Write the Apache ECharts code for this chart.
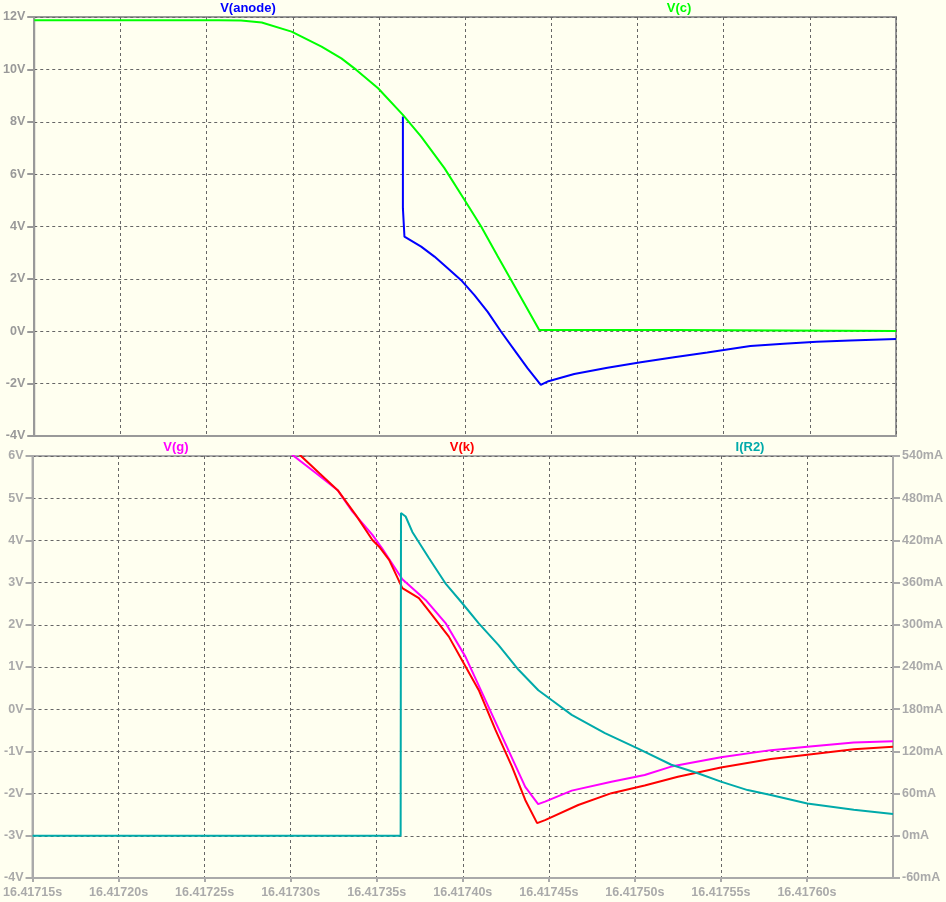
<!DOCTYPE html>
<html>
<head>
<meta charset="utf-8">
<script src="https://cdn.jsdelivr.net/npm/echarts@6/dist/echarts.min.js"></script>
<style>
  html, body { margin: 0; padding: 0; background: #fffff0; }
  #chart { width: 946px; height: 902px; }
</style>
</head>
<body>
<div id="chart"></div>
<script>
// time axis: microseconds after 16.41715 s
const T0 = 16.41715;

// top pane: V(c) and V(anode), volts
const tC = [0, 107, 120, 132, 149.3, 155.1, 166.7, 178.2, 186.9, 199.5, 213.9, 224.5, 238, 249.6, 259.3, 268.9, 276.6, 293, 372, 373, 500];
const vC = [11.88, 11.88, 11.87, 11.79, 11.44, 11.25, 10.87, 10.42, 9.98, 9.28, 8.26, 7.43, 6.23, 5.02, 4.0, 2.86, 1.97, 0.05, 0.05, 0.01, 0.01];

const tAnode = [213.9, 213.9, 214.4, 214.8, 224.5, 232.2, 239.9, 247.7, 255.4, 263.1, 270.8, 278.5, 286.3, 293.9, 297.8, 313.3, 332.6, 351.9, 371.2, 390.5, 415.5, 434.8, 454.1, 473.4, 500];
const vAnode = [8.2, 4.7, 4.63, 3.61, 3.23, 2.85, 2.41, 1.95, 1.38, 0.74, -0.01, -0.71, -1.42, -2.05, -1.92, -1.63, -1.39, -1.18, -0.99, -0.81, -0.56, -0.48, -0.4, -0.35, -0.3];

// bottom pane: V(g), V(k) in volts, I(R2) in mA
const tG = [143.5, 151.2, 164.8, 177.3, 185.9, 197.5, 203.3, 214.9, 228.4, 240, 251.6, 263.1, 274.7, 286.3, 293.8, 297.8, 313.3, 336.4, 355.7, 371.1, 400, 429, 450.2, 477.2, 500];
const vG = [6.27, 6.02, 5.59, 5.19, 4.68, 4.13, 3.8, 3.08, 2.59, 2.04, 1.24, 0.22, -0.81, -1.84, -2.25, -2.19, -1.93, -1.72, -1.56, -1.36, -1.14, -0.97, -0.89, -0.79, -0.76];

const tK = [149.3, 155.5, 166.7, 177.3, 187.9, 197.5, 201.4, 207.2, 214.9, 224.5, 230.3, 241.9, 251.6, 259.3, 269, 278.6, 286.3, 293.2, 297.8, 317.1, 336.4, 355.7, 375, 400, 429, 450.2, 477.2, 500];
const vK = [6.27, 6.02, 5.59, 5.19, 4.6, 4.01, 3.85, 3.54, 2.87, 2.63, 2.33, 1.72, 1.01, 0.45, -0.49, -1.36, -2.15, -2.7, -2.63, -2.27, -1.99, -1.81, -1.6, -1.38, -1.18, -1.08, -0.95, -0.89];

const tR2 = [0, 213.9, 214.1, 216.8, 220.7, 230.3, 239.9, 249.6, 259.3, 270.8, 282.4, 293.9, 301.6, 313.3, 332.6, 351.9, 371.2, 386.6, 400, 415.5, 429, 450.2, 477.2, 500];
const iR2 = [0, 0, 459, 454, 432, 395, 359, 331, 302, 271, 236, 207, 193, 172, 146, 124, 101, 89, 77, 65, 58, 46, 37, 31];

const pairs = (ts, vs) => ts.map((t, i) => [t, vs[i]]);

const FONT = '"Liberation Sans", Arial, sans-serif';
const gridLine = { lineStyle: { type: [3, 3], color: '#666', width: 1 } };

function line(name, color, xi, yi, data) {
  return {
    name: name, type: 'line', xAxisIndex: xi, yAxisIndex: yi,
    data: data, showSymbol: false, symbol: 'none', clip: true,
    lineStyle: { color: color, width: 2 }, animation: false
  };
}

function label(text, x, y, color) {
  return {
    type: 'text', x: x, y: y,
    style: { text: text, fill: color, font: 'bold 13px ' + FONT, align: 'center', verticalAlign: 'middle' }
  };
}

const chart = echarts.init(document.getElementById('chart'));
chart.setOption({
  backgroundColor: '#fffff0',
  animation: false,
  grid: [
    { left: 32, top: 17, width: 864, height: 419, show: true, borderColor: '#999', borderWidth: 2 },
    { left: 32, top: 456, width: 864, height: 422, show: true, borderColor: '#aaa', borderWidth: 2 }
  ],
  xAxis: [
    {
      gridIndex: 0, type: 'value', min: 0, max: 500, interval: 50,
      axisLine: { onZero: false, lineStyle: { color: '#999', width: 2 } },
      axisTick: { show: false }, axisLabel: { show: false },
      splitLine: gridLine
    },
    {
      gridIndex: 1, type: 'value', min: 0, max: 500, interval: 50,
      axisLine: { onZero: false, lineStyle: { color: '#aaa', width: 2 } },
      axisTick: { length: 4, lineStyle: { color: '#aaa', width: 2 } },
      axisLabel: {
        color: '#aaa', fontSize: 12.5, fontWeight: 'bold', fontFamily: FONT, margin: 8,
        showMaxLabel: false,
        formatter: v => (T0 + v / 1e6).toFixed(5) + 's'
      },
      splitLine: gridLine
    }
  ],
  yAxis: [
    {
      gridIndex: 0, type: 'value', min: -4, max: 12, interval: 2,
      axisLine: { show: true, onZero: false, lineStyle: { color: '#999', width: 2 } },
      axisTick: { show: true, length: 7, lineStyle: { color: '#999', width: 2 } },
      axisLabel: { color: '#999', fontSize: 12.5, fontWeight: 'bold', fontFamily: FONT, margin: 9, formatter: '{value}V' },
      splitLine: gridLine
    },
    {
      gridIndex: 1, type: 'value', min: -4, max: 6, interval: 1,
      axisLine: { show: true, onZero: false, lineStyle: { color: '#aaa', width: 2 } },
      axisTick: { show: true, length: 7, lineStyle: { color: '#aaa', width: 2 } },
      axisLabel: { color: '#aaa', fontSize: 12.5, fontWeight: 'bold', fontFamily: FONT, margin: 9, formatter: '{value}V' },
      splitLine: gridLine
    },
    {
      gridIndex: 1, type: 'value', position: 'right', min: -60, max: 540, interval: 60,
      axisLine: { show: true, onZero: false, lineStyle: { color: '#aaa', width: 2 } },
      axisTick: { show: true, length: 7, lineStyle: { color: '#aaa', width: 2 } },
      axisLabel: { color: '#aaa', fontSize: 12.5, fontWeight: 'bold', fontFamily: FONT, margin: 9, formatter: '{value}mA' },
      splitLine: { show: false }
    }
  ],
  graphic: [
    label('V(anode)', 248, 8, '#0000ff'),
    label('V(c)', 679, 8, '#00ff00'),
    label('V(g)', 176, 447, '#ff00ff'),
    label('V(k)', 462, 447, '#ff0000'),
    label('I(R2)', 750, 447, '#00aaaa')
  ],
  series: [
    line('V(anode)', '#0000ff', 0, 0, pairs(tAnode, vAnode)),
    line('V(c)', '#00ff00', 0, 0, pairs(tC, vC)),
    line('V(g)', '#ff00ff', 1, 1, pairs(tG, vG)),
    line('V(k)', '#ff0000', 1, 1, pairs(tK, vK)),
    line('I(R2)', '#00aaaa', 1, 2, pairs(tR2, iR2))
  ]
});
</script>
</body>
</html>
